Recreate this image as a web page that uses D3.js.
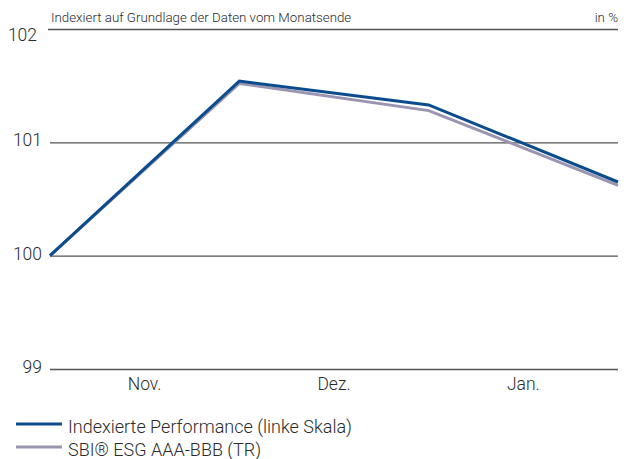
<script src="https://d3js.org/d3.v7.min.js"></script>
<style>
  body { margin: 0; background: #fff; }
  text { font-family: Roboto, "Liberation Sans", Arial, sans-serif; font-weight: 300; fill: #2b2b2b; }
</style>
<svg width="627" height="459"></svg>
<script>
var months = ["Nov.", "Dez.", "Jan."];
var yTicks = [99, 100, 101, 102];
var perf = [100, 101.54, 101.33, 100.65];
var sbi = [100, 101.52, 101.28, 100.62];
var legendLabels = ["Indexierte Performance (linke Skala)", "SBI\u00ae ESG AAA-BBB (TR)"];

var svg = d3.select("svg"),
    margin = {top: 29, right: 9, bottom: 90, left: 50},
    width = +svg.attr("width") - margin.left - margin.right,
    height = +svg.attr("height") - margin.top - margin.bottom;

var g = svg.append("g").attr("transform", "translate(" + margin.left + "," + margin.top + ")");

var x = d3.scaleLinear().domain([0, perf.length - 1]).range([0, width]);
var y = d3.scaleLinear().domain([99, 102]).range([height, 0]);

// horizontal grid + left labels
var yAxis = g.append("g")
    .call(d3.axisLeft(y).tickValues(yTicks).tickSize(-width).tickFormat(d3.format("d")));
yAxis.select(".domain").remove();
yAxis.selectAll(".tick line").attr("stroke", "#555").attr("stroke-width", 1.3);
yAxis.selectAll(".tick line").filter(function(d) { return d === 102; }).attr("x1", -2);
yAxis.selectAll(".tick text")
    .attr("x", function(d) { return d === 102 ? -13 : -8; })
    .attr("dy", function(d) { return d === 102 ? "0.65em" : "0.2em"; })
    .style("font-size", "17.5px")
    .attr("fill", "#2b2b2b");

// month labels between month-end points
g.selectAll(".month")
    .data(months)
  .enter().append("text")
    .attr("class", "month")
    .attr("x", function(d, i) { return x(i + 0.5); })
    .attr("y", height + 21)
    .attr("text-anchor", "middle")
    .style("font-size", "17.5px")
    .text(function(d) { return d; });

// header
svg.append("text")
    .attr("x", margin.left + 1)
    .attr("y", 22)
    .style("font-size", "13.3px")
    .text("Indexiert auf Grundlage der Daten vom Monatsende");
svg.append("text")
    .attr("x", margin.left + width)
    .attr("y", 22)
    .attr("text-anchor", "end")
    .style("font-size", "13.3px")
    .text("in %");

var line = d3.line()
    .x(function(d, i) { return x(i); })
    .y(function(d) { return y(d); });

var colors = ["#0b4d8c", "#9b95b1"];

g.append("path").datum(sbi)
    .attr("fill", "none").attr("stroke", colors[1]).attr("stroke-width", 3)
    .attr("d", line);
g.append("path").datum(perf)
    .attr("fill", "none").attr("stroke", colors[0]).attr("stroke-width", 3)
    .attr("d", line);

// legend
var legend = svg.append("g").attr("transform", "translate(16,424)");
legendLabels.forEach(function(lab, i) {
    var row = legend.append("g").attr("transform", "translate(0," + (i * 23) + ")");
    row.append("line").attr("x1", 0).attr("x2", 46).attr("y1", 0).attr("y2", 0)
        .attr("stroke", colors[i]).attr("stroke-width", 3);
    row.append("text").attr("x", 52).attr("y", 9)
        .style("font-size", "18px")
        .text(lab);
});
</script>
